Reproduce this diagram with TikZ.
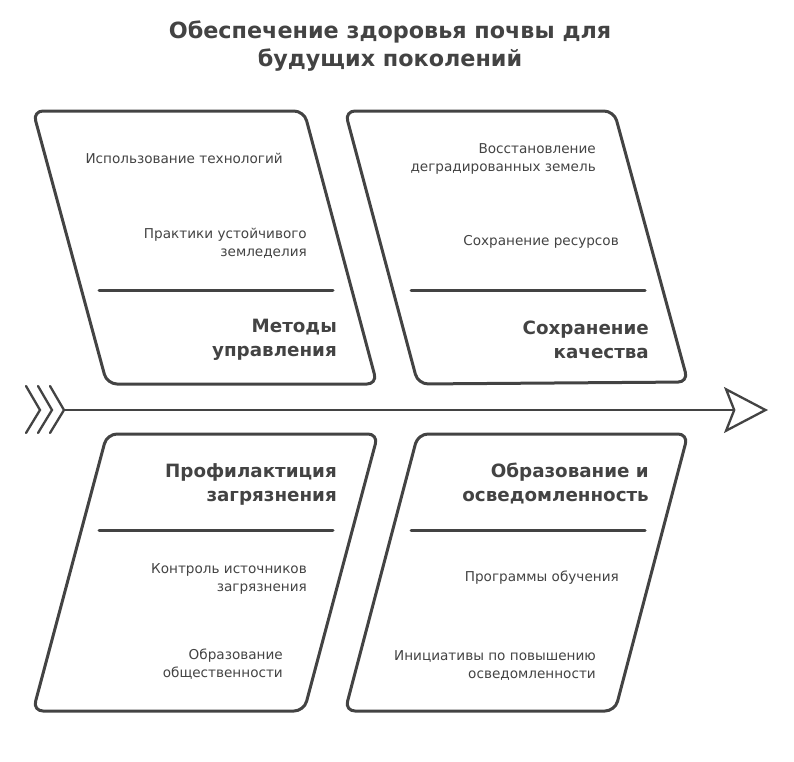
\documentclass[tikz,border=0pt]{standalone}
\usepackage{fontspec}
\setmainfont{DejaVu Sans}
\usepackage{xcolor}
\usetikzlibrary{positioning,arrows.meta}
\definecolor{ink}{HTML}{434343}

\begin{document}
\begin{tikzpicture}[
  x=1pt, y=-1pt,
  box/.style={draw=ink, line width=3pt, rounded corners=10pt, line join=round},
  divider/.style={draw=ink, line width=3pt, line cap=round},
  item/.style={anchor=east, align=right, inner sep=0pt, text=ink,
    font=\fontsize{13.6}{18}\selectfont},
  head/.style={anchor=east, align=right, inner sep=0pt, text=ink,
    font=\fontsize{18.3}{24}\selectfont\bfseries},
  spine/.style={draw=ink, line width=2.3pt, line cap=round, line join=miter}
]
\useasboundingbox (0,0) rectangle (794,761);

% Title
\node[text=ink, align=center, font=\fontsize{22.3}{28}\selectfont\bfseries] (title) at (390,46)
  {Обеспечение здоровья почвы для\\будущих поколений};

% Boxes
\draw[box] (33,111) -- (304,111) -- (377,384) -- (107,384) -- cycle;
\draw[box] (345,111) -- (614,111) -- (688,382) -- (418,384) -- cycle;
\draw[box] (107,434) -- (378,434) -- (304,711) -- (33,711) -- cycle;
\draw[box] (418,434) -- (688,434) -- (615,711) -- (345,711) -- cycle;

% Dividers
\draw[divider] (99,290) -- (333,290);
\draw[divider] (411,290) -- (645,290);
\draw[divider] (99,530) -- (333,530);
\draw[divider] (411,530) -- (645,530);

% Methods
\node[head] (hMethods) at (337,340) {Методы\\управления};
\node[item] (iTech) at (283,158) {Использование технологий};
\node[item] (iFarm) at (307,243) {Практики устойчивого\\земледелия};

% Quality
\node[head] (hQuality) at (649,340) {Сохранение\\качества};
\node[item] (iRestore) at (596,159) {Восстановление\\деградированных земель};
\node[item] (iSave) at (619,242) {Сохранение ресурсов};

% Pollution
\node[head] (hPollution) at (337,484) {Профилактиция\\загрязнения};
\node[item] (iControl) at (307,579) {Контроль источников\\загрязнения};
\node[item] (iPublic) at (283,664) {Образование\\общественности};

% Education
\node[head] (hEducation) at (649,484) {Образование и\\осведомленность};
\node[item] (iPrograms) at (619,578) {Программы обучения};
\node[item] (iAware) at (596,665) {Инициативы по повышению\\осведомленности};

% Spine
\coordinate (tail) at (64,410);
\coordinate (head) at (768,410);
\draw[spine, -{Stealth[open, length=44pt, width=46pt, inset=9pt, line width=2.3pt]}] (tail) -- (head);
\foreach \dx in {0,12,24}
  \draw[spine] (26+\dx,386) -- (40+\dx,410) -- (26+\dx,433);

\end{tikzpicture}
\end{document}
